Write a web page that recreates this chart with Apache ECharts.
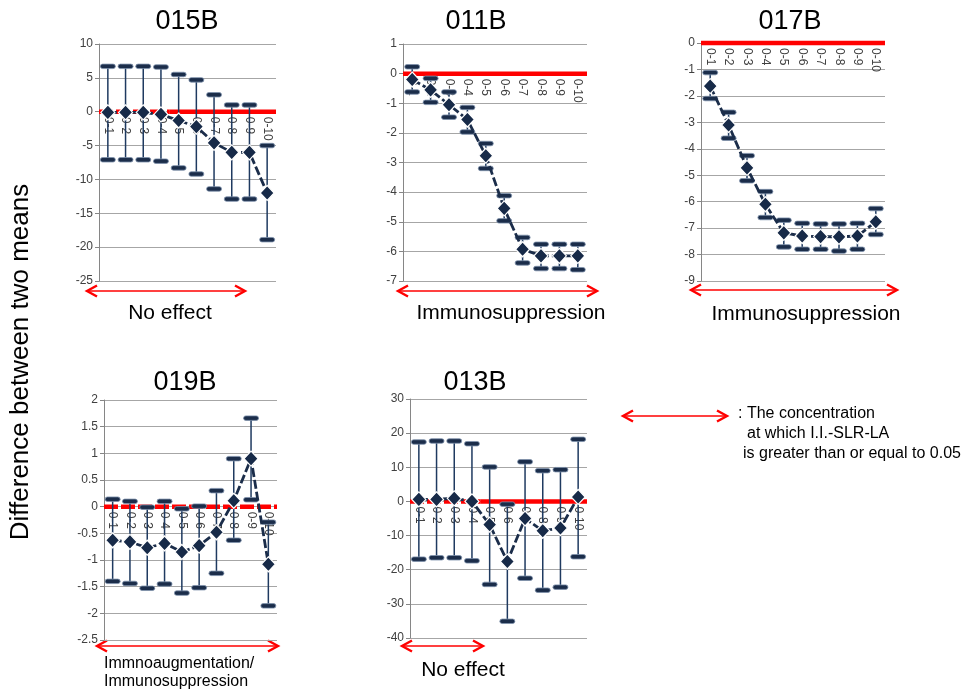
<!DOCTYPE html>
<html>
<head>
<meta charset="utf-8">
<script src="https://cdn.jsdelivr.net/npm/echarts@6/dist/echarts.min.js"></script>
<style>
  html, body { margin: 0; padding: 0; background: #ffffff; }
  #chart { width: 970px; height: 692px; }
</style>
</head>
<body>
<div id="chart"></div>
<script>
// Concentration categories shared by every panel
const categories = ['0-1', '0-2', '0-3', '0-4', '0-5', '0-6', '0-7', '0-8', '0-9', '0-10'];

// 015B: mean difference with lower / upper limits
const mean015B  = [-0.1, -0.1, -0.1, -0.4, -1.3, -2.2, -4.6, -6.0, -6.0, -12.0];
const upper015B = [6.7, 6.7, 6.7, 6.6, 5.5, 4.7, 2.5, 1.0, 1.0, -5.0];
const lower015B = [-7.1, -7.1, -7.1, -7.3, -8.3, -9.2, -11.4, -12.9, -12.9, -18.9];

// 011B
const mean011B  = [-0.2, -0.55, -1.05, -1.55, -2.77, -4.55, -5.93, -6.15, -6.15, -6.15];
const upper011B = [0.23, -0.16, -0.62, -1.14, -2.36, -4.12, -5.53, -5.76, -5.76, -5.76];
const lower011B = [-0.62, -0.97, -1.47, -1.97, -3.2, -4.97, -6.39, -6.58, -6.58, -6.62];

// 017B
const mean017B  = [-1.63, -3.1, -4.72, -6.1, -7.18, -7.3, -7.32, -7.33, -7.3, -6.76];
const upper017B = [-1.12, -2.62, -4.26, -5.62, -6.7, -6.82, -6.84, -6.84, -6.82, -6.26];
const lower017B = [-2.1, -3.6, -5.21, -6.6, -7.71, -7.8, -7.8, -7.87, -7.8, -7.24];

// 019B
const mean019B  = [-0.63, -0.66, -0.77, -0.69, -0.85, -0.73, -0.48, 0.11, 0.9, -1.08];
const upper019B = [0.14, 0.1, -0.01, 0.1, -0.04, 0.01, 0.3, 0.9, 1.66, -0.29];
const lower019B = [-1.4, -1.44, -1.53, -1.45, -1.62, -1.52, -1.25, -0.63, 0.13, -1.86];

// 013B
const mean013B  = [0.6, 0.6, 0.9, 0.0, -6.8, -17.6, -5.0, -8.6, -7.8, 1.3];
const upper013B = [17.4, 17.7, 17.7, 16.9, 10.1, -0.8, 11.6, 9.0, 9.3, 18.2];
const lower013B = [-16.9, -16.5, -16.5, -17.4, -24.3, -35.1, -22.5, -26.0, -25.1, -16.2];

// Zero reference line spans: [first category, end category (exclusive), dashed?]
const ref015B = [[0, 4, 1], [4, 10, 0]];
const ref011B = [[0, 10, 0]];
const ref017B = [[0, 10, 0]];
const ref019B = [[0, 10, 1]];
const ref013B = [[0, 4, 1], [4, 10, 0]];

// Value axis ranges: [min, max, step]
const axis015B = [-25, 10, 5];
const axis011B = [-7, 1, 1];
const axis017B = [-9, 0, 1];
const axis019B = [-2.5, 2, 0.5];
const axis013B = [-40, 30, 10];

const FONT = '"Liberation Sans", Arial, sans-serif';
const NAVY = '#1b2d4a';

const panels = [
  { name: '015B', mean: mean015B, upper: upper015B, lower: lower015B, ref: ref015B, axis: axis015B,
    box: { left: 99, top: 44, width: 177, height: 237 }, titleX: 187, titleY: 22 },
  { name: '011B', mean: mean011B, upper: upper011B, lower: lower011B, ref: ref011B, axis: axis011B,
    box: { left: 403, top: 44, width: 184, height: 237 }, titleX: 476, titleY: 22 },
  { name: '017B', mean: mean017B, upper: upper017B, lower: lower017B, ref: ref017B, axis: axis017B,
    box: { left: 701, top: 43, width: 184, height: 238 }, titleX: 790, titleY: 22 },
  { name: '019B', mean: mean019B, upper: upper019B, lower: lower019B, ref: ref019B, axis: axis019B,
    box: { left: 104, top: 400, width: 173, height: 240 }, titleX: 185, titleY: 383 },
  { name: '013B', mean: mean013B, upper: upper013B, lower: lower013B, ref: ref013B, axis: axis013B,
    box: { left: 410, top: 399, width: 177, height: 239 }, titleX: 475, titleY: 383 }
];

// Error bar: thin vertical whisker with rounded thick caps
function renderErrorBar(params, api) {
  const idx = api.value(0);
  const lo = api.coord([idx, api.value(1)]);
  const hi = api.coord([idx, api.value(2)]);
  const capW = 15, capH = 4.5;
  const cap = (p) => ({
    type: 'rect',
    shape: { x: p[0] - capW / 2, y: p[1] - capH / 2, width: capW, height: capH, r: capH / 2 },
    style: { fill: NAVY, stroke: '#7f92ac', lineWidth: 0.8 }
  });
  return {
    type: 'group',
    children: [
      { type: 'line', shape: { x1: hi[0], y1: hi[1], x2: lo[0], y2: lo[1] },
        style: { stroke: '#1f3a60', lineWidth: 1.5 } },
      cap(hi),
      cap(lo)
    ]
  };
}

// Red reference line at zero, spanning whole category bands
function renderRefLine(params, api) {
  const start = api.value(0);
  const end = api.value(1);
  const dashed = api.value(2) === 1;
  const band = api.size([1, 0])[0];
  const a = api.coord([start, 0]);
  const b = api.coord([end - 1, 0]);
  return {
    type: 'line',
    shape: { x1: a[0] - band / 2, y1: a[1], x2: b[0] + band / 2, y2: b[1] },
    style: { stroke: '#ff0000', lineWidth: 4.5, lineDash: dashed ? [14, 3] : null }
  };
}

// Category names hang downward from the zero line
function renderCategoryLabel(params, api) {
  const idx = api.value(0);
  const p = api.coord([idx, api.value(1)]);
  return {
    type: 'text',
    x: p[0], y: p[1] + 5,
    rotation: -Math.PI / 2,
    style: {
      text: categories[idx], fill: '#404040', font: '12px ' + FONT,
      align: 'left', verticalAlign: 'middle'
    }
  };
}

const grids = [], xAxes = [], yAxes = [], series = [];
panels.forEach((p, i) => {
  grids.push(Object.assign({ containLabel: false }, p.box));
  xAxes.push({
    type: 'category', gridIndex: i, data: categories, boundaryGap: true,
    axisLine: { show: false },
    axisTick: { show: false },
    axisLabel: { show: false, interval: 0 },
    splitLine: { show: false }
  });
  yAxes.push({
    type: 'value', gridIndex: i, min: p.axis[0], max: p.axis[1], interval: p.axis[2],
    axisLine: { show: true, lineStyle: { color: '#868686', width: 1 } },
    axisTick: { show: true, length: 4, lineStyle: { color: '#868686' } },
    axisLabel: { fontSize: 12, color: '#404040', fontFamily: FONT, margin: 6 },
    splitLine: { show: true, lineStyle: { color: '#a6a6a6', width: 1 } }
  });
  series.push({
    type: 'custom', name: p.name + ' labels', xAxisIndex: i, yAxisIndex: i, z: 1, silent: true,
    renderItem: renderCategoryLabel, encode: { x: 0, y: 1 },
    data: categories.map((c, k) => [k, 0])
  });
  series.push({
    type: 'custom', name: p.name + ' zero', xAxisIndex: i, yAxisIndex: i, z: 2, silent: true,
    renderItem: renderRefLine, encode: { x: [0, 1], y: 2 }, data: p.ref
  });
  series.push({
    type: 'custom', name: p.name + ' range', xAxisIndex: i, yAxisIndex: i, z: 3, silent: true,
    renderItem: renderErrorBar, encode: { x: 0, y: [1, 2] },
    data: categories.map((c, k) => [k, p.lower[k], p.upper[k]])
  });
  series.push({
    type: 'line', name: p.name, xAxisIndex: i, yAxisIndex: i, z: 4,
    data: p.mean,
    showSymbol: true, showAllSymbol: true,
    symbol: 'diamond', symbolSize: [14, 15],
    itemStyle: { color: '#172a48', borderColor: '#ffffff', borderWidth: 1.2 },
    lineStyle: { color: NAVY, width: 2.8, type: [9, 3] }
  });
});

function textEl(str, x, y, size, opts) {
  opts = opts || {};
  return {
    type: 'text', x: x, y: y, rotation: opts.rotation || 0, silent: true,
    style: {
      text: str, fill: '#000000', font: size + 'px ' + FONT,
      textAlign: opts.align || 'center', textVerticalAlign: 'middle',
      align: opts.align || 'center', verticalAlign: 'middle'
    }
  };
}

function arrowEl(x1, x2, y) {
  const h = 10, w = 5.5;
  const head = { stroke: '#ff0000', lineWidth: 2.4, fill: null, lineJoin: 'miter' };
  return {
    type: 'group', silent: true,
    children: [
      { type: 'line', shape: { x1: x1 + 1, y1: y, x2: x2 - 1, y2: y }, style: { stroke: '#ff0000', lineWidth: 1.5 } },
      { type: 'polyline', shape: { points: [[x1 + h, y - w], [x1, y], [x1 + h, y + w]] }, style: head },
      { type: 'polyline', shape: { points: [[x2 - h, y - w], [x2, y], [x2 - h, y + w]] }, style: head }
    ]
  };
}

const graphics = [];
panels.forEach(p => graphics.push(textEl(p.name, p.titleX, p.titleY, 27)));
graphics.push(textEl('Difference between two means', 21, 362, 26, { rotation: Math.PI / 2 }));

graphics.push(arrowEl(87, 245, 291));
graphics.push(textEl('No effect', 170, 313, 21));
graphics.push(arrowEl(398, 597, 291));
graphics.push(textEl('Immunosuppression', 511, 313, 21));
graphics.push(arrowEl(691, 897, 290));
graphics.push(textEl('Immunosuppression', 806, 314, 21));
graphics.push(arrowEl(97, 278, 646));
graphics.push(textEl('Immnoaugmentation/', 104, 664, 16, { align: 'left' }));
graphics.push(textEl('Immunosuppression', 104, 682, 16, { align: 'left' }));
graphics.push(arrowEl(402, 483, 646));
graphics.push(textEl('No effect', 463, 670, 21));

graphics.push(arrowEl(623, 727, 416));
graphics.push(textEl(': The concentration', 738, 414, 16, { align: 'left' }));
graphics.push(textEl('at which I.I.-SLR-LA', 747, 434, 16, { align: 'left' }));
graphics.push(textEl('is greater than or equal to 0.05', 743, 454, 16, { align: 'left' }));

const chart = echarts.init(document.getElementById('chart'), null, { renderer: 'canvas' });
chart.setOption({
  backgroundColor: '#ffffff',
  animation: false,
  textStyle: { fontFamily: FONT },
  grid: grids,
  xAxis: xAxes,
  yAxis: yAxes,
  series: series,
  graphic: graphics
});
</script>
</body>
</html>
